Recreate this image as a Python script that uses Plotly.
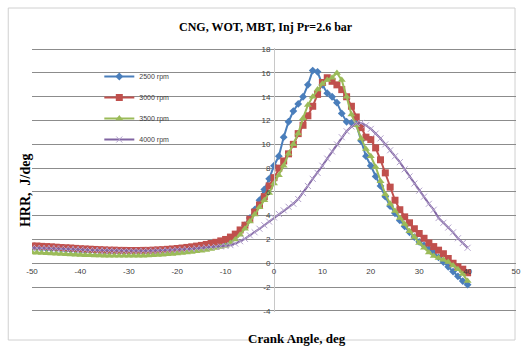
import plotly.graph_objects as go

crank_angle = list(range(-50, 41))

hrr_2500 = [1.3,1.3,1.28,1.25,1.22,1.2,1.18,1.15,1.12,1.1,1.1,
            1.08,1.06,1.05,1.03,1.02,1.0,1.0,0.98,0.97,0.97,
            0.97,0.97,0.98,0.98,1.0,1.0,1.02,1.05,1.08,1.1,
            1.12,1.15,1.2,1.25,1.3,1.38,1.45,1.55,1.65,
            1.8,2.0,2.3,2.7,3.2,3.8,4.5,5.3,6.2,7.1,
            8.2,9.0,10.6,11.9,12.8,13.4,14.0,15.0,16.2,16.1,
            15.0,14.3,14.0,13.5,12.6,11.9,11.8,11.7,10.3,9.0,
            8.2,7.3,6.5,5.6,4.8,4.2,3.6,3.1,2.6,2.2,
            1.8,1.5,1.2,0.9,0.5,0.1,-0.3,-0.7,-1.1,-1.5,-1.8]

hrr_3000 = [1.45,1.45,1.42,1.4,1.38,1.35,1.32,1.3,1.28,1.25,1.22,
            1.2,1.18,1.16,1.14,1.12,1.1,1.1,1.08,1.08,1.07,
            1.07,1.07,1.08,1.08,1.1,1.12,1.14,1.17,1.2,1.24,
            1.28,1.33,1.38,1.44,1.5,1.58,1.66,1.76,1.88,
            2.0,2.2,2.45,2.8,3.2,3.7,4.3,4.9,5.6,6.5,
            7.2,8.0,8.6,9.2,10.0,10.9,11.6,12.4,13.2,14.2,
            15.2,15.6,15.3,15.0,14.6,14.0,13.2,12.3,11.4,10.6,
            10.4,9.7,8.7,7.6,6.4,5.3,4.5,3.9,3.4,2.9,
            2.5,2.1,1.7,1.4,1.1,0.8,0.4,0.0,-0.3,-0.5,-0.8]

hrr_3500 = [0.9,0.88,0.86,0.84,0.82,0.8,0.78,0.76,0.74,0.72,0.7,
            0.68,0.67,0.66,0.65,0.64,0.63,0.62,0.62,0.62,0.62,
            0.62,0.63,0.64,0.65,0.67,0.69,0.72,0.75,0.78,0.82,
            0.86,0.9,0.95,1.0,1.06,1.12,1.2,1.28,1.36,
            1.46,1.7,2.0,2.4,2.9,3.5,4.1,4.7,5.3,5.9,
            6.7,7.4,8.2,9.2,10.0,10.9,12.2,13.3,14.0,14.6,
            15.1,15.4,15.6,16.0,15.4,14.0,12.5,11.6,10.5,9.6,
            9.0,8.1,6.9,5.8,5.0,4.4,3.8,3.3,2.7,2.2,
            1.7,1.3,0.9,0.6,0.45,0.3,0.1,-0.2,-0.5,-0.9,-1.5]

hrr_4000 = [1.3,1.29,1.28,1.27,1.26,1.25,1.23,1.21,1.19,1.17,1.15,
            1.13,1.11,1.1,1.08,1.07,1.06,1.05,1.05,1.04,1.04,
            1.04,1.04,1.05,1.05,1.06,1.07,1.08,1.1,1.12,1.14,
            1.16,1.19,1.22,1.25,1.29,1.33,1.36,1.38,1.41,
            1.45,1.52,1.65,1.85,2.05,2.35,2.6,2.9,3.2,3.5,
            3.85,4.15,4.45,4.75,5.0,5.4,5.9,6.5,7.1,7.6,
            8.2,8.8,9.4,10.0,10.6,11.1,11.5,11.75,11.8,11.6,
            11.3,10.9,10.5,10.0,9.5,9.0,8.5,7.9,7.3,6.7,
            6.1,5.6,5.0,4.5,3.8,3.4,3.0,2.6,2.1,1.7,1.3]

series_names = ["2500 rpm", "3000 rpm", "3500 rpm", "4000 rpm"]
x_tick_vals = [-50, -40, -30, -20, -10, 0, 10, 20, 30, 40, 50]
x_tick_text = ["-50", "-40", "-30", "-20", "-10", "0", "10", "20", "30", "40", "50"]
y_tick_vals = [-4, -2, 0, 2, 4, 6, 8, 10, 12, 14, 16, 18]
y_tick_text = ["-4", "-2", "0", "2", "4", "6", "8", "10", "12", "14", "16", "18"]

styles = [
    dict(color="#4A7EBB", symbol="diamond", size=6, mline="#4A7EBB", mw=0),
    dict(color="#C0504D", symbol="square", size=7, mline="#C0504D", mw=0),
    dict(color="#9BBB59", symbol="triangle-up", size=7, mline="#9BBB59", mw=0),
    dict(color="#8064A2", symbol="x-thin", size=6, mline="#B3A2CC", mw=1),
]

fig = go.Figure()
for name, ys, st in zip(series_names, [hrr_2500, hrr_3000, hrr_3500, hrr_4000], styles):
    fig.add_trace(go.Scatter(
        x=crank_angle, y=ys, name=name, mode="lines+markers",
        legendgroup=name,
        line=dict(color=st["color"], width=2),
        marker=dict(symbol=st["symbol"], size=st["size"], color=st["color"],
                    line=dict(color=st["mline"], width=st["mw"])),
    ))

tickfont = dict(family="Liberation Sans Narrow, Liberation Sans, Arial", size=8, color="#404040")
serif_bold = "Liberation Serif"

T, B, L, R = 48, 35, 32, 7
PH = 347 - T - B
PW = 528 - L - R
ymin, ymax = -4.1, 18.1


def px_x(px):
    return (px - L) / PW


def px_y(py):
    return 1 - (py - T) / PH


fig.update_layout(
    width=528, height=347,
    margin=dict(l=L, r=R, t=T, b=B),
    paper_bgcolor="white", plot_bgcolor="white",
    showlegend=True,
    legend=dict(x=px_x(100), y=px_y(62), xanchor="left", yanchor="top",
                font=dict(family="Liberation Sans Narrow, Liberation Sans, Arial", size=7, color="#404040"),
                bgcolor="rgba(0,0,0,0)", tracegroupgap=2, traceorder="grouped",
                itemwidth=30),
    xaxis=dict(range=[-50, 50], tickvals=x_tick_vals, ticktext=x_tick_text,
               showgrid=False, zeroline=False, showline=False,
               anchor="free", position=(0 - ymin) / (ymax - ymin), ticks="",
               tickfont=tickfont, ticklabelstandoff=2),
    yaxis=dict(range=[ymin, ymax], tickvals=y_tick_vals, ticktext=y_tick_text,
               showgrid=True, gridcolor="#8C8C8C", gridwidth=1,
               zeroline=True, zerolinecolor="#8C8C8C", zerolinewidth=1,
               showline=True, linecolor="#C8C8C8", linewidth=1,
               anchor="free", position=0.5, ticks="", tickfont=tickfont, ticklabelstandoff=2),
    shapes=[dict(type="rect", xref="paper", yref="paper",
                 x0=px_x(8), x1=px_x(520), y0=px_y(340), y1=px_y(8),
                 line=dict(color="#D0D0D0", width=1), layer="below")],
    annotations=[
        dict(text="<b>CNG, WOT, MBT, Inj Pr=2.6 bar</b>", xref="paper", yref="paper",
             x=px_x(268), y=px_y(27), showarrow=False,
             xanchor="center", yanchor="middle",
             font=dict(family=serif_bold, size=12, color="#000000")),
        dict(text="<b>HRR,  J/deg</b>", xref="paper", yref="paper",
             x=px_x(25), y=px_y(190), showarrow=False, textangle=-90,
             xanchor="center", yanchor="middle",
             font=dict(family=serif_bold, size=14, color="#000000")),
        dict(text="<b>Crank Angle, deg</b>", xref="paper", yref="paper",
             x=px_x(300), y=px_y(338), showarrow=False,
             xanchor="center", yanchor="middle",
             font=dict(family=serif_bold, size=13, color="#000000")),
    ],
)

fig.write_html("out.html")
